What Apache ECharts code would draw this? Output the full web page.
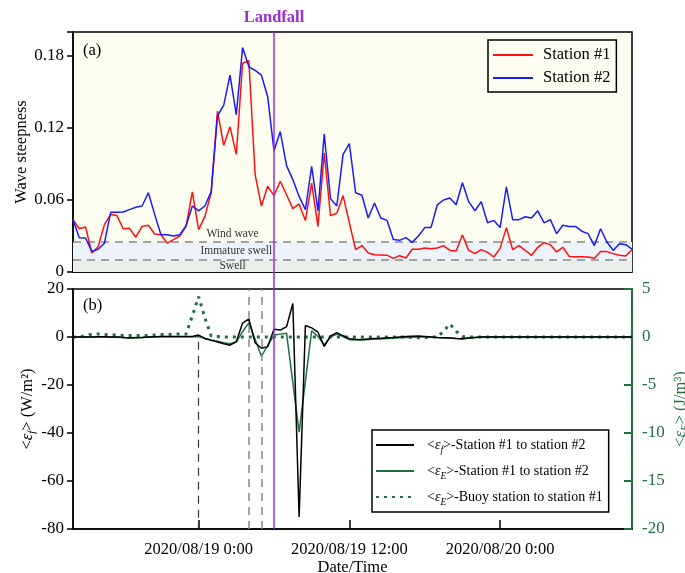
<!DOCTYPE html>
<html><head><meta charset="utf-8">
<script src="https://cdn.jsdelivr.net/npm/echarts@6/dist/echarts.min.js"></script>
<style>html,body{margin:0;padding:0;background:#fff}#c{width:685px;height:573px}</style>
</head><body><div id="c"></div>
<script>
// time in hours relative to 2020/08/19 0:00
const hours = [-10,-9.5,-9,-8.5,-8,-7.5,-7,-6.5,-6,-5.5,-5,-4.5,-4,-3.5,-3,-2.5,-2,-1.5,-1,-0.5,
  0,0.5,1,1.5,2,2.5,3,3.5,4,4.5,5,5.5,6,6.5,7,7.5,8,8.5,9,9.5,10,10.5,11,11.5,12,12.5,13,13.5,14,14.5,
  15,15.5,16,16.5,17,17.5,18,18.5,19,19.5,20,20.5,21,21.5,22,22.5,23,23.5,24,24.5,25,25.5,26,26.5,27,27.5,
  28,28.5,29,29.5,30,30.5,31,31.5,32,32.5,33,33.5,34,34.5];
const station1 = [0.0436,0.036,0.0375,0.0158,0.021,0.0394,0.048,0.047,0.036,0.0364,0.029,0.038,0.039,0.0317,0.031,0.024,0.027,0.030,0.038,0.0667,
  0.0353,0.0464,0.066,0.134,0.1056,0.121,0.098,0.174,0.176,0.081,0.055,0.0714,0.0636,0.0756,0.0644,0.0528,0.0567,0.043,0.074,0.038,
  0.099,0.047,0.049,0.0636,0.041,0.0186,0.022,0.0158,0.0144,0.0142,0.014,0.0114,0.0136,0.0117,0.019,0.019,0.020,0.0194,0.020,0.022,
  0.018,0.0175,0.0308,0.018,0.0153,0.0186,0.0164,0.0125,0.0197,0.037,0.0186,0.022,0.018,0.0139,0.0206,0.0244,0.0228,0.0167,0.0206,0.013,
  0.0128,0.0128,0.0125,0.0114,0.017,0.017,0.0153,0.0139,0.0133,0.0186];
const station2 = [0.0436,0.0286,0.0283,0.0172,0.019,0.024,0.0497,0.0497,0.050,0.052,0.054,0.055,0.066,0.048,0.031,0.031,0.030,0.031,0.0386,0.055,
  0.051,0.055,0.067,0.130,0.139,0.164,0.131,0.187,0.171,0.168,0.164,0.146,0.101,0.117,0.0886,0.077,0.063,0.052,0.088,0.051,
  0.115,0.061,0.055,0.098,0.107,0.066,0.064,0.045,0.0575,0.045,0.043,0.027,0.0264,0.0286,0.0247,0.030,0.037,0.037,0.056,0.060,
  0.0617,0.056,0.0744,0.0586,0.051,0.0586,0.041,0.043,0.037,0.071,0.0436,0.0436,0.046,0.045,0.051,0.041,0.0436,0.032,0.039,0.038,
  0.038,0.034,0.032,0.022,0.036,0.025,0.018,0.0236,0.0228,0.019];
// <eps_f> station #1 to station #2 (W/m2)
const efStation12 = [0,0,0,0,0.1,0.1,0,0,-0.2,-0.4,-0.3,-0.2,0,0.1,0.2,0.2,0.2,0.2,0.2,0.2,
  0.8,-0.6,-1.4,-2.1,-2.8,-3.4,-2.0,5.8,7.5,-2.4,-4.7,-4.0,3.2,2.9,4.3,14.0,-75,4.8,3.8,2.0,
  -3.9,0.5,1.8,0.5,-0.7,-0.9,-1.0,-0.8,-0.6,-0.5,-0.3,-0.2,0,0.2,0.3,0.4,0.2,0,-0.2,-0.3,
  -0.4,-0.6,-0.7,-0.4,-0.2,0,0,0,0,0,0,0,0,0,0,0,0,0,0,0,
  0,0,0,0,0,0,0,0,0,0];
// <eps_E> station #1 to station #2 (J/m3)
const eEStation12 = [0,0,0,0,0,0,0,0,-0.05,-0.08,-0.06,-0.05,0,0,0.02,0.03,0.03,0.03,0.03,0.03,
  0.05,-0.15,-0.3,-0.45,-0.6,-0.7,-0.5,0.55,1.5,-0.25,-2.0,-0.9,0.2,0.3,0.38,-4.75,-9.9,-4.6,0.65,0.05,
  -0.82,0,0.3,0.05,-0.28,-0.3,-0.3,-0.25,-0.22,-0.2,-0.15,-0.12,-0.08,-0.05,-0.02,0,0,0,-0.05,-0.08,
  -0.1,-0.15,-0.2,-0.1,-0.05,0,0,0,0,0,0,0,0,0,0,0,0,0,0,0,
  0,0,0,0,0,0,0,0,0,0];
// <eps_E> buoy station to station #1 (J/m3)
const eEBuoy1 = [0,0,0.15,0.3,0.3,0.25,0.2,0.2,0.15,0.15,0.15,0.15,0.15,0.2,0.25,0.25,0.3,0.3,0.3,2.2,
  4.2,2.0,0.1,0.05,0,0,0,0,0,0,0,0,0,0,0,0,0,0,0,0,
  0,0,0,0,0,0,0,0,0,0,0,0,0,0,-0.05,-0.08,-0.05,0,0,0.6,
  1.35,0.6,0.05,0,0,0,0,0,0,0,0,0,0,0,0,0,0,0,0,0,
  0,0,0,0,0,0,0,0,0,0];
const tickHours = [0, 12, 24];
const tickLabels = ['2020/08/19 0:00', '2020/08/19 12:00', '2020/08/20 0:00'];
const landfallHour = 6;
const eventHours = [0, 4, 5];
const regimeBounds = [0.01, 0.025];
const regimeNames = ['Wind wave', 'Immature swell', 'Swell'];
const regimeLabelPos = [[2.7, 0.0318], [3.0, 0.0175], [2.7, 0.0052]];

const pair = arr => hours.map((h, i) => [h, arr[i]]);
const hSpan = [hours[0], hours[hours.length - 1]];
const FONT = 'Liberation Serif';
const GREEN = '#1e7040';
const PURPLE = '#9d2bd8';
const legendNames = {
  'ef12': '<{e|ε}{s|f}>-Station #1 to station #2',
  'eE12': '<{e|ε}{s|E}>-Station #1 to station #2',
  'eEb1': '<{e|ε}{s|E}>-Buoy station to station #1'
};
const richSub = {
  e: {fontFamily: FONT, fontStyle: 'italic', fontSize: 14, lineHeight: 20, verticalAlign: 'middle'},
  s: {fontFamily: FONT, fontStyle: 'italic', fontSize: 9.5, lineHeight: 9, verticalAlign: 'bottom'}
};
const chart = echarts.init(document.getElementById('c'), null, {renderer: 'canvas'});
const xBase = {
  type: 'value', min: -10, max: 34.5, interval: 0.5,
  axisLine: {show: true, onZero: false, lineStyle: {color: '#000', width: 1.5}},
  axisTick: {show: true, inside: true, length: 9, customValues: tickHours, lineStyle: {color: '#000', width: 1.5}},
  splitLine: {show: false}
};
const boundSeries = v => ({type: 'line', xAxisIndex: 0, yAxisIndex: 0, silent: true, symbol: 'none', z: 2,
  data: [[hSpan[0], v], [hSpan[1], v]], lineStyle: {color: '#888', type: [8, 6], width: 1.5}});
const option = {
  animation: false,
  textStyle: {fontFamily: FONT},
  grid: [
    {left: 73, right: 53, top: 32, height: 240, show: true, borderColor: '#000', borderWidth: 1.5,
      backgroundColor: '#fefef0', containLabel: false, outerBoundsMode: 'none'},
    {left: 73, right: 53, top: 289, height: 240, show: true, borderColor: '#000', borderWidth: 1.5,
      backgroundColor: '#fff', containLabel: false, outerBoundsMode: 'none'}
  ],
  xAxis: [
    Object.assign({}, xBase, {gridIndex: 0, axisLabel: {show: false}}),
    Object.assign({}, xBase, {gridIndex: 1,
      axisLabel: {customValues: tickHours, formatter: v => tickLabels[tickHours.indexOf(v)] || '',
        color: '#000', fontSize: 16.5, fontFamily: FONT, margin: 12},
      name: 'Date/Time', nameLocation: 'middle', nameGap: 30, nameMoveOverlap: false,
      nameTextStyle: {color: '#000', fontSize: 16.5, fontFamily: FONT}})
  ],
  yAxis: [
    {gridIndex: 0, type: 'value', min: 0, max: 0.2, interval: 0.06,
      axisLine: {show: true, onZero: false, lineStyle: {color: '#000', width: 1.5}},
      axisTick: {show: true, length: 6, lineStyle: {color: '#000', width: 1.5}},
      axisLabel: {color: '#000', fontSize: 17, fontFamily: FONT, margin: 9,
        formatter: v => v > 0.19 ? '' : (v === 0 ? '0' : v.toFixed(2))},
      splitLine: {show: false},
      name: 'Wave steepness', nameLocation: 'middle', nameGap: 43, nameMoveOverlap: false,
      nameTextStyle: {color: '#000', fontSize: 16.5, fontFamily: FONT}},
    {gridIndex: 1, type: 'value', min: -80, max: 20, interval: 20,
      axisLine: {show: true, onZero: false, lineStyle: {color: '#000', width: 1.5}},
      axisTick: {show: true, length: 6, lineStyle: {color: '#000', width: 1.5}},
      axisLabel: {color: '#000', fontSize: 17, fontFamily: FONT, margin: 9},
      splitLine: {show: false},
      name: '<{e|ε}{s|f}> (W/m²)', nameLocation: 'middle', nameGap: 35, nameMoveOverlap: false,
      nameTextStyle: {color: '#000', fontSize: 16.5, fontFamily: FONT,
        rich: {e: {fontFamily: FONT, fontStyle: 'italic', fontSize: 16.5, lineHeight: 20, verticalAlign: 'middle'},
               s: {fontFamily: FONT, fontStyle: 'italic', fontSize: 11, lineHeight: 10, verticalAlign: 'bottom'}}}},
    {gridIndex: 1, type: 'value', position: 'right', min: -20, max: 5, interval: 5,
      axisLine: {show: true, onZero: false, lineStyle: {color: GREEN, width: 2}},
      axisTick: {show: true, inside: true, length: 8, lineStyle: {color: GREEN, width: 2}},
      axisLabel: {color: GREEN, fontSize: 17, fontFamily: FONT, margin: 10},
      splitLine: {show: false},
      name: '<{e|ε}{s|E}> (J/m³)', nameLocation: 'middle', nameGap: 39, nameRotate: 90, nameMoveOverlap: false,
      nameTextStyle: {color: GREEN, fontSize: 16.5, fontFamily: FONT,
        rich: {e: {color: GREEN, fontFamily: FONT, fontStyle: 'italic', fontSize: 16.5, lineHeight: 20, verticalAlign: 'middle'},
               s: {color: GREEN, fontFamily: FONT, fontStyle: 'italic', fontSize: 11, lineHeight: 10, verticalAlign: 'bottom'}}}}
  ],
  legend: [
    {data: ['Station #1', 'Station #2'], orient: 'vertical', left: 488, top: 40,
      padding: [6, 6, 5, 4], itemGap: 5, itemWidth: 40, itemHeight: 14,
      itemStyle: {opacity: 0},
      borderColor: '#000', borderWidth: 1.5, backgroundColor: 'transparent',
      textStyle: {color: '#000', fontSize: 16.5, fontFamily: FONT, padding: [0, 0, 0, 5], lineHeight: 18}},
    {data: ['ef12', 'eE12', 'eEb1'], orient: 'vertical', left: 372, top: 430,
      padding: [5, 6, 5, 3], itemGap: 6, itemWidth: 38, itemHeight: 14,
      itemStyle: {opacity: 0},
      borderColor: '#000', borderWidth: 1.5, backgroundColor: '#fff',
      formatter: n => legendNames[n],
      textStyle: {color: '#000', fontSize: 14, fontFamily: FONT, padding: [0, 0, 0, 8], lineHeight: 20, rich: richSub}}
  ],
  series: [
    {name: 'Station #1', type: 'line', xAxisIndex: 0, yAxisIndex: 0, data: pair(station1),
      symbol: 'none', color: '#ff1010', lineStyle: {color: '#ff1010', width: 1.5}, z: 3,
      markArea: {silent: true, data: [
        [{yAxis: regimeBounds[0], itemStyle: {color: '#edf2fb'}}, {yAxis: regimeBounds[1]}],
        [{yAxis: 0, itemStyle: {color: '#e8efeb'}}, {yAxis: regimeBounds[0]}]
      ]},
      markLine: {silent: true, symbol: ['none', 'none'], label: {show: false}, data: [
        {xAxis: landfallHour, lineStyle: {color: PURPLE, type: 'solid', width: 1.5},
          label: {show: true, position: 'end', formatter: 'Landfall', distance: 6,
            color: PURPLE, fontWeight: 'bold', fontSize: 16.5, fontFamily: FONT}}
      ]},
      markPoint: {silent: true, symbol: 'circle', symbolSize: 1, itemStyle: {color: 'rgba(0,0,0,0)'},
        label: {show: true, position: 'inside', formatter: p => p.name, color: '#333', fontSize: 11.5, fontFamily: FONT},
        data: regimeNames.map((n, i) => ({name: n, coord: regimeLabelPos[i]}))}
    },
    {name: 'Station #2', type: 'line', xAxisIndex: 0, yAxisIndex: 0, data: pair(station2),
      symbol: 'none', color: '#1a1aff', lineStyle: {color: '#1a1aff', width: 1.5}, z: 4},
    boundSeries(regimeBounds[1]),
    boundSeries(regimeBounds[0]),
    {name: 'ef12', type: 'line', xAxisIndex: 1, yAxisIndex: 1, data: pair(efStation12),
      symbol: 'none', color: '#000', lineStyle: {color: '#000', width: 1.5}, z: 4,
      markLine: {silent: true, symbol: ['none', 'none'], label: {show: false}, data: [
        [{coord: [eventHours[0], -2], lineStyle: {color: '#333', type: [8, 6], width: 1.2}}, {coord: [eventHours[0], -80]}],
        {xAxis: eventHours[1], lineStyle: {color: '#888', type: [8, 6], width: 1.5}},
        {xAxis: eventHours[2], lineStyle: {color: '#888', type: [8, 6], width: 1.5}},
        {xAxis: landfallHour, lineStyle: {color: PURPLE, type: 'solid', width: 1.5}}
      ]}},
    {name: 'eE12', type: 'line', xAxisIndex: 1, yAxisIndex: 2, data: pair(eEStation12),
      symbol: 'none', color: GREEN, lineStyle: {color: GREEN, width: 1.5}, z: 3},
    {name: 'eEb1', type: 'line', xAxisIndex: 1, yAxisIndex: 2, data: pair(eEBuoy1),
      symbol: 'none', color: GREEN, lineStyle: {color: GREEN, width: 3, type: [3, 5]}, z: 3}
  ]
};
chart.setOption(option);
const lx = chart.convertToPixel({xAxisIndex: 0}, landfallHour);
const yTopBottom = chart.convertToPixel({yAxisIndex: 0}, 0);
const yBotTop = chart.convertToPixel({yAxisIndex: 1}, 20);
chart.setOption({graphic: [
  {type: 'line', shape: {x1: lx, y1: yTopBottom, x2: lx, y2: yBotTop}, style: {stroke: PURPLE, lineWidth: 1.5}, z: 10},
  {type: 'text', left: 83, top: 42, style: {text: '(a)', fontSize: 16.5, fontFamily: FONT, fill: '#000'}, z: 10},
  {type: 'text', left: 83, top: 297, style: {text: '(b)', fontSize: 16.5, fontFamily: FONT, fill: '#000'}, z: 10}
]});
</script></body></html>
